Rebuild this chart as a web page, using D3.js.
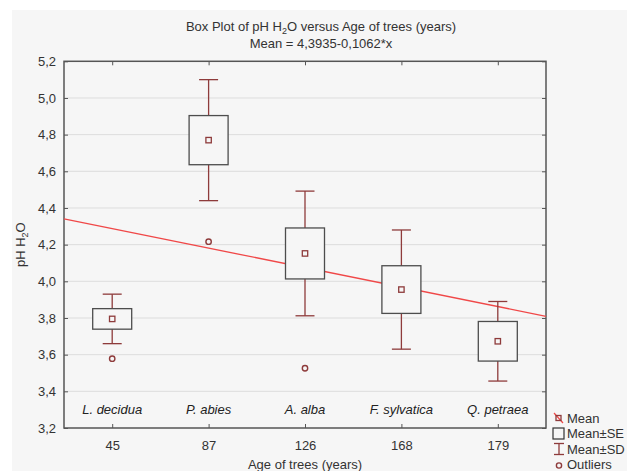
<!DOCTYPE html>
<html>
<head>
<meta charset="utf-8">
<script src="https://cdn.jsdelivr.net/npm/d3@7/dist/d3.min.js"></script>
<style>
  body { margin: 0; background: #fff; }
  svg { display: block; font-family: "Liberation Sans", Arial, sans-serif; }
</style>
</head>
<body>
<div class="content"></div>
<script>
// data
const ages = ["45", "87", "126", "168", "179"];
const species = ["L. decidua", "P. abies", "A. alba", "F. sylvatica", "Q. petraea"];
const means = [3.795, 4.770, 4.152, 3.955, 3.673];
const se = [0.056, 0.134, 0.139, 0.130, 0.108];
const sd = [0.135, 0.330, 0.340, 0.325, 0.217];
const outliers = [3.578, 4.216, 3.526, null, null];
const yTicks = [3.2, 3.4, 3.6, 3.8, 4.0, 4.2, 4.4, 4.6, 4.8, 5.0, 5.2];
const fitIntercept = 4.3935, fitSlope = -0.1062;
const legendItems = ["Mean", "Mean±SE", "Mean±SD", "Outliers"];

function main() {
  const svgW = 631, svgH = 471;
  const left = 64, right = 546, top = 61.3, bottom = 428;
  const boxColor = '#4d4d4d', redDark = '#8e3b3b', lineRed = '#f04848';
  const fs = 13;

  const svg = d3.select('.content').append('svg')
                .attr('width', svgW)
                .attr('height', svgH);

  // grey panel
  svg.append('rect').attr('x', 12).attr('y', 10)
     .attr('width', 615).attr('height', svgH - 10)
     .attr('fill', '#f6f6f6');

  const x = d3.scalePoint().domain(ages).range([left, right]).padding(0.5);
  const xi = d3.scaleLinear().domain([0.5, ages.length + 0.5]).range([left, right]);
  const y = d3.scaleLinear().domain([3.2, 5.2]).range([bottom, top]);
  const fmt = (d) => d3.format('.1f')(d).replace('.', ',');

  // grid
  svg.append('g').selectAll('line')
     .data(yTicks.slice(1, -1))
     .enter().append('line')
     .attr('x1', left).attr('x2', right)
     .attr('y1', (d) => y(d)).attr('y2', (d) => y(d))
     .attr('stroke', '#dddddd').attr('stroke-width', 1);

  // axes, ticks pointing inward
  function styleAxis(g) {
    g.select('.domain').remove();
    g.selectAll('line').attr('stroke', '#555');
    g.selectAll('text').attr('fill', '#333').attr('font-size', fs);
  }
  svg.append('g').attr('transform', 'translate(' + left + ',0)')
     .call(d3.axisLeft(y).tickValues(yTicks).tickFormat(fmt).tickSize(-4).tickPadding(8))
     .call(styleAxis);
  svg.append('g').attr('transform', 'translate(' + right + ',0)')
     .call(d3.axisRight(y).tickValues(yTicks).tickFormat('').tickSize(-4))
     .call(styleAxis);
  svg.append('g').attr('transform', 'translate(0,' + bottom + ')')
     .call(d3.axisBottom(x).tickSize(-4).tickPadding(13))
     .call(styleAxis);
  svg.append('g').attr('transform', 'translate(0,' + top + ')')
     .call(d3.axisTop(x).tickFormat('').tickSize(-4))
     .call(styleAxis);

  svg.append('rect')
     .attr('x', left).attr('y', top)
     .attr('width', right - left).attr('height', bottom - top)
     .attr('fill', 'none').attr('stroke', '#555').attr('stroke-width', 1.5);

  // regression line
  const lineFunction = d3.line()
                         .x((d) => xi(d))
                         .y((d) => y(fitIntercept + fitSlope * d));
  svg.append('path').datum([0.5, ages.length + 0.5])
     .attr('d', lineFunction)
     .attr('stroke', lineRed).attr('stroke-width', 1.3)
     .attr('fill', 'none');

  // whiskers (mean +- sd)
  const boxW = 39, capW = 19;
  const g = svg.append('g');
  ages.forEach((a, i) => {
    const cx = x(a);
    g.append('line').attr('x1', cx).attr('x2', cx)
     .attr('y1', y(means[i] + sd[i])).attr('y2', y(means[i] - sd[i]))
     .attr('stroke', redDark).attr('stroke-width', 1.3);
    [means[i] + sd[i], means[i] - sd[i]].forEach((v) => {
      g.append('line').attr('x1', cx - capW / 2).attr('x2', cx + capW / 2)
       .attr('y1', y(v)).attr('y2', y(v))
       .attr('stroke', redDark).attr('stroke-width', 1.3);
    });
    // box mean +- se
    g.append('rect')
     .attr('x', cx - boxW / 2).attr('y', y(means[i] + se[i]))
     .attr('width', boxW).attr('height', y(means[i] - se[i]) - y(means[i] + se[i]))
     .attr('fill', '#f6f6f6').attr('stroke', boxColor).attr('stroke-width', 1.3);
    // mean marker
    g.append('rect')
     .attr('x', cx - 2.7).attr('y', y(means[i]) - 2.7)
     .attr('width', 5.4).attr('height', 5.4)
     .attr('fill', 'none').attr('stroke', redDark).attr('stroke-width', 1.3);
    if (outliers[i] !== null) {
      g.append('circle').attr('cx', cx).attr('cy', y(outliers[i])).attr('r', 2.7)
       .attr('fill', 'none').attr('stroke', redDark).attr('stroke-width', 1.4);
    }
  });

  // species labels
  svg.append('g').selectAll('text')
     .data(species)
     .enter().append('text')
     .attr('x', (d, i) => x(ages[i]))
     .attr('y', 414)
     .attr('text-anchor', 'middle')
     .attr('font-size', fs).attr('font-style', 'italic').attr('fill', '#222')
     .text((d) => d);

  // titles
  const t1 = svg.append('text').attr('x', 321).attr('y', 31)
     .attr('text-anchor', 'middle').attr('font-size', fs).attr('fill', '#333');
  t1.append('tspan').text('Box Plot of pH H');
  t1.append('tspan').attr('font-size', 9).attr('dy', 3).text('2');
  t1.append('tspan').attr('dy', -3).text('O versus Age of trees (years)');
  svg.append('text').attr('x', 321).attr('y', 48)
     .attr('text-anchor', 'middle').attr('font-size', fs).attr('fill', '#333')
     .text('Mean = 4,3935-0,1062*x');

  svg.append('text').attr('x', 305).attr('y', 469)
     .attr('text-anchor', 'middle').attr('font-size', fs).attr('fill', '#333')
     .text('Age of trees (years)');

  const yl = svg.append('text')
     .attr('transform', 'translate(25,' + (top + bottom) / 2 + ') rotate(-90)')
     .attr('text-anchor', 'middle').attr('font-size', fs).attr('fill', '#333');
  yl.append('tspan').text('pH H');
  yl.append('tspan').attr('font-size', 9).attr('dy', 3).text('2');
  yl.append('tspan').attr('dy', -3).text('O');

  // legend
  const lx = 559, ly = [418, 433.5, 449, 464.5];
  const lg = svg.append('g');
  lg.selectAll('text').data(legendItems).enter().append('text')
    .attr('x', lx + 8).attr('y', (d, i) => ly[i] + 4.5)
    .attr('font-size', fs).attr('fill', '#333')
    .text((d) => d);
  // mean symbol with fit line
  lg.append('line').attr('x1', lx - 5).attr('y1', ly[0] - 5).attr('x2', lx + 4).attr('y2', ly[0] + 5)
    .attr('stroke', lineRed).attr('stroke-width', 1.2);
  lg.append('rect').attr('x', lx - 3).attr('y', ly[0] - 2.5).attr('width', 5).attr('height', 5)
    .attr('fill', 'none').attr('stroke', redDark).attr('stroke-width', 1.3);
  lg.append('rect').attr('x', lx - 6).attr('y', ly[1] - 5.5).attr('width', 11).attr('height', 11)
    .attr('fill', 'none').attr('stroke', '#333').attr('stroke-width', 1.2);
  lg.append('line').attr('x1', lx).attr('x2', lx).attr('y1', ly[2] - 5.5).attr('y2', ly[2] + 5.5)
    .attr('stroke', redDark).attr('stroke-width', 1.3);
  [ly[2] - 5.5, ly[2] + 5.5].forEach((v) => {
    lg.append('line').attr('x1', lx - 5).attr('x2', lx + 5).attr('y1', v).attr('y2', v)
      .attr('stroke', redDark).attr('stroke-width', 1.3);
  });
  lg.append('circle').attr('cx', lx).attr('cy', ly[3] + 1).attr('r', 2.6)
    .attr('fill', 'none').attr('stroke', redDark).attr('stroke-width', 1.4);
}
main();
</script>
</body>
</html>
